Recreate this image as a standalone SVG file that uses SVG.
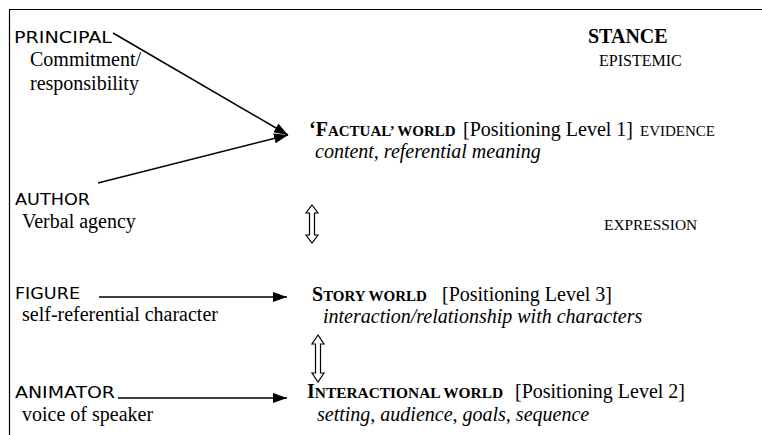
<svg xmlns="http://www.w3.org/2000/svg" width="762" height="435" viewBox="0 0 762 435">
  <defs>
    <marker id="head" viewBox="0 0 14 10" refX="14" refY="5" markerWidth="14" markerHeight="10" markerUnits="userSpaceOnUse" orient="auto">
      <path d="M0,0 L14,5 L0,10 Z" fill="#000"/>
    </marker>
    <style>
      .role { font-family: "Comic Sans MS", "DejaVu Sans", sans-serif; font-size: 15px; fill: #000; }
      .serif { font-family: "Liberation Serif", "Times New Roman", serif; font-size: 20px; fill: #000; }
      .it { font-style: italic; }
      .b { font-weight: bold; }
      .sc { font-size: 15px; }
      .line { stroke: #000; stroke-width: 1.5; fill: none; }
      .dbl { stroke: #000; stroke-width: 1.2; fill: #fff; }
    </style>
  </defs>
  <rect width="762" height="435" fill="#fff"/>

  <!-- frame (top and left rules) -->
  <path d="M9.5,435 V9.5 H762" stroke="#000" stroke-width="1.2" fill="none"/>

  <!-- roles -->
  <g id="principal">
    <text class="role" x="14" y="43" textLength="98" lengthAdjust="spacingAndGlyphs">PRINCIPAL</text>
    <text class="serif" x="30" y="66">Commitment/</text>
    <text class="serif" x="30" y="90">responsibility</text>
  </g>
  <g id="author">
    <text class="role" x="15" y="205" textLength="75" lengthAdjust="spacingAndGlyphs">AUTHOR</text>
    <text class="serif" x="22" y="228">Verbal agency</text>
  </g>
  <g id="figure">
    <text class="role" x="15" y="299" textLength="65" lengthAdjust="spacingAndGlyphs">FIGURE</text>
    <text class="serif" x="22" y="321">self-referential character</text>
  </g>
  <g id="animator">
    <text class="role" x="15" y="398" textLength="100" lengthAdjust="spacingAndGlyphs">ANIMATOR</text>
    <text class="serif" x="22" y="421">voice of speaker</text>
  </g>

  <!-- stance column -->
  <g id="stance">
    <text class="serif b" x="588" y="43">STANCE</text>
    <text class="serif" x="599" y="66" style="font-size:16px">EPISTEMIC</text>
  </g>
  <g id="expression">
    <text class="serif" x="604" y="230" style="font-size:15.4px">EXPRESSION</text>
  </g>

  <!-- worlds -->
  <g id="factual-world">
    <text class="serif" y="136"><tspan x="309" class="b">‘F</tspan><tspan class="b sc">ACTUAL’ WORLD</tspan><tspan x="463">[Positioning Level 1]</tspan><tspan x="640" class="sc">EVIDENCE</tspan></text>
    <text class="serif it" x="315" y="158">content, referential meaning</text>
  </g>
  <g id="story-world">
    <text class="serif" y="301"><tspan x="312" class="b">S</tspan><tspan class="b sc">TORY WORLD</tspan><tspan x="442">[Positioning Level 3]</tspan></text>
    <text class="serif it" x="323" y="323">interaction/relationship with characters</text>
  </g>
  <g id="interactional-world">
    <text class="serif" y="398"><tspan x="307" class="b">I</tspan><tspan class="b" style="font-size:15.4px">NTERACTIONAL WORLD</tspan><tspan x="515">[Positioning Level 2]</tspan></text>
    <text class="serif it" x="317" y="421">setting, audience, goals, sequence</text>
  </g>

  <!-- connectors -->
  <g id="connectors">
    <line class="line" x1="113" y1="33" x2="288" y2="135" marker-end="url(#head)"/>
    <line class="line" x1="98" y1="183" x2="288" y2="135" marker-end="url(#head)"/>
    <line class="line" x1="99" y1="297" x2="287" y2="297" marker-end="url(#head)"/>
    <line class="line" x1="118" y1="398" x2="287" y2="398" marker-end="url(#head)"/>
    <!-- hollow double-headed arrows -->
    <path class="dbl" d="M312,205 L318,213 L314.5,213 L314.5,235 L318,235 L312,243 L306,235 L309.5,235 L309.5,213 L306,213 Z"/>
    <path class="dbl" d="M318,335 L324,344 L320.5,344 L320.5,373 L324,373 L318,382 L312,373 L315.5,373 L315.5,344 L312,344 Z"/>
  </g>
</svg>
